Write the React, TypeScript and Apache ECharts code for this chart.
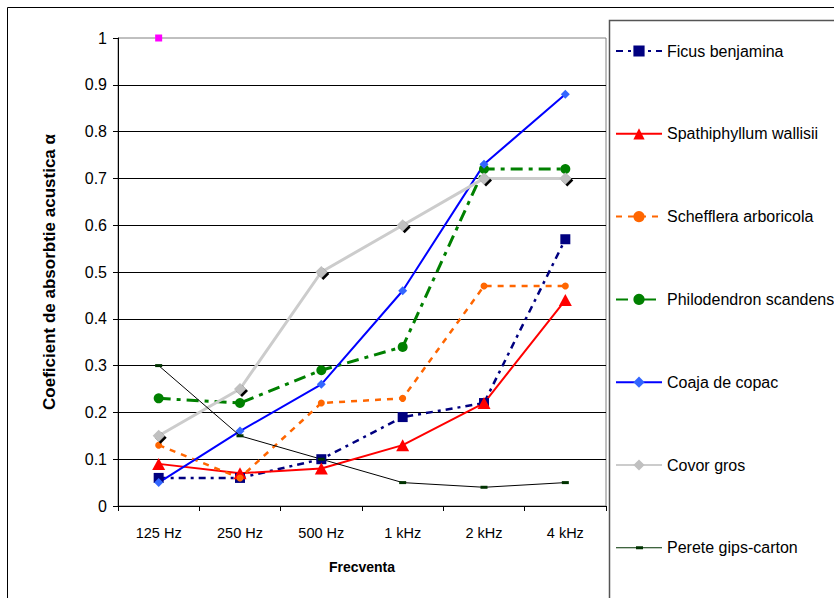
import React, { useEffect, useRef } from "react";
import * as echarts from "echarts";

const categories = ["125 Hz", "250 Hz", "500 Hz", "1 kHz", "2 kHz", "4 kHz"];
const ficus = [0.06, 0.06, 0.1, 0.19, 0.22, 0.57];
const spathiphyllum = [0.09, 0.07, 0.08, 0.13, 0.22, 0.44];
const schefflera = [0.13, 0.06, 0.22, 0.23, 0.47, 0.47];
const philodendron = [0.23, 0.22, 0.29, 0.34, 0.72, 0.72];
const coaja = [0.05, 0.16, 0.26, 0.46, 0.73, 0.88];
const covor = [0.15, 0.25, 0.5, 0.6, 0.7, 0.7];
const perete = [0.3, 0.15, 0.1, 0.05, 0.04, 0.05];
const reference = [1, null, null, null, null, null];
const yTicks = [0, 0.1, 0.2, 0.3, 0.4, 0.5, 0.6, 0.7, 0.8, 0.9, 1];

const FONT = "'Liberation Sans', Arial, sans-serif";

export default function App() {
  const ref = useRef<HTMLDivElement>(null);
  useEffect(() => {
    if (!ref.current) return;
    const chart = echarts.init(ref.current, undefined, { renderer: "svg" });
    const legendNames = [
      "Ficus benjamina",
      "Spathiphyllum wallisii",
      "Schefflera arboricola",
      "Philodendron scandens",
      "Coaja de copac",
      "Covor gros",
      {
        name: "Perete gips-carton",
        icon: "path://M0,6.5 L20,6.5 L20,5.5 L27,5.5 L27,6.5 L46,6.5 L46,7.5 L27,7.5 L27,8.5 L20,8.5 L20,7.5 L0,7.5 Z",
      },
    ];
    chart.setOption({
      animation: false,
      backgroundColor: "#fff",
      textStyle: { fontFamily: FONT },
      graphic: [
        {
          type: "rect",
          shape: { x: 7.5, y: 7.5, width: 1000, height: 1000 },
          style: { fill: "none", stroke: "#000", lineWidth: 1 },
          silent: true,
        },
        {
          type: "rect",
          shape: { x: 609.5, y: 20.5, width: 500, height: 1000 },
          style: { fill: "none", stroke: "#555", lineWidth: 1.5 },
          silent: true,
        },
      ],
      grid: {
        left: 118,
        right: 228,
        top: 38,
        bottom: 92,
        show: true,
        borderColor: "#808080",
        borderWidth: 1,
      },
      legend: {
        data: legendNames,
        orient: "vertical",
        left: 615,
        top: 43,
        itemWidth: 46,
        itemHeight: 14,
        itemGap: 66.8,
        textStyle: { fontFamily: FONT, fontSize: 16, color: "#000" },
        padding: 0,
      },
      xAxis: {
        type: "category",
        data: categories,
        boundaryGap: true,
        name: "Frecventa",
        nameLocation: "middle",
        nameGap: 54,
        nameTextStyle: { fontFamily: FONT, fontSize: 14, fontWeight: "bold", color: "#000" },
        axisLine: { lineStyle: { color: "#000", width: 1 } },
        axisTick: { show: true, length: 5, lineStyle: { color: "#000" } },
        axisLabel: { fontFamily: FONT, fontSize: 14.5, color: "#000", margin: 19 },
      },
      yAxis: {
        type: "value",
        min: 0,
        max: 1,
        interval: 0.1,
        name: "Coeficient de absorbtie acustica α",
        nameLocation: "middle",
        nameGap: 60,
        nameTextStyle: { fontFamily: FONT, fontSize: 17, fontWeight: "bold", color: "#000" },
        axisLine: { show: true, lineStyle: { color: "#000", width: 1 } },
        axisTick: { show: true, length: 5, lineStyle: { color: "#000" } },
        axisLabel: {
          fontFamily: FONT,
          fontSize: 16,
          color: "#000",
          margin: 11,
          formatter: (v: number) => {
            const t = yTicks.find((x) => Math.abs(x - v) < 1e-6);
            return t === undefined ? "" : String(Math.round(t * 10) / 10);
          },
        },
        splitLine: { show: true, showMaxLine: false, lineStyle: { color: "#000", width: 1 } },
      },
      series: [
        {
          name: "Ficus benjamina",
          type: "line",
          data: ficus,
          symbol: "rect",
          symbolSize: 10,
          lineStyle: { color: "#000080", width: 2.5, type: [7, 5, 3, 5] },
          itemStyle: { color: "#000080" },
        },
        {
          name: "Spathiphyllum wallisii",
          type: "line",
          data: spathiphyllum,
          symbol: "triangle",
          symbolSize: [13, 12],
          lineStyle: { color: "#FF0000", width: 2 },
          itemStyle: { color: "#FF0000" },
        },
        {
          name: "Schefflera arboricola",
          type: "line",
          data: schefflera,
          symbol: "circle",
          symbolSize: 7,
          lineStyle: { color: "#FF6600", width: 2.5, type: [6, 6] },
          itemStyle: { color: "#FF6600" },
        },
        {
          name: "Philodendron scandens",
          type: "line",
          data: philodendron,
          symbol: "circle",
          symbolSize: 10,
          lineStyle: { color: "#008000", width: 3, type: [12, 6, 4, 6] },
          itemStyle: { color: "#008000" },
        },
        {
          name: "Coaja de copac",
          type: "line",
          data: coaja,
          symbol: "diamond",
          symbolSize: 9,
          lineStyle: { color: "#0000FF", width: 2 },
          itemStyle: { color: "#3366FF" },
        },
        {
          name: "Covor gros",
          type: "line",
          data: covor,
          symbol: "diamond",
          symbolSize: 12,
          lineStyle: { color: "#CCCCCC", width: 3 },
          itemStyle: {
            color: "#C0C0C0",
            shadowColor: "#000",
            shadowBlur: 0,
            shadowOffsetX: 2,
            shadowOffsetY: 2,
          },
        },
        {
          name: "Perete gips-carton",
          type: "line",
          data: perete,
          symbol: "rect",
          symbolSize: [7, 3],
          lineStyle: { color: "#000", width: 1 },
          itemStyle: { color: "#003300" },
        },
        {
          name: "ref",
          type: "line",
          data: reference,
          symbol: "rect",
          symbolSize: 7,
          showSymbol: true,
          lineStyle: { width: 0 },
          itemStyle: { color: "#FF00FF" },
        },
      ],
    });
    return () => chart.dispose();
  }, []);
  return (
    <div
      ref={ref}
      style={{ position: "fixed", left: 0, top: 0, width: 834, height: 598 }}
    />
  );
}
